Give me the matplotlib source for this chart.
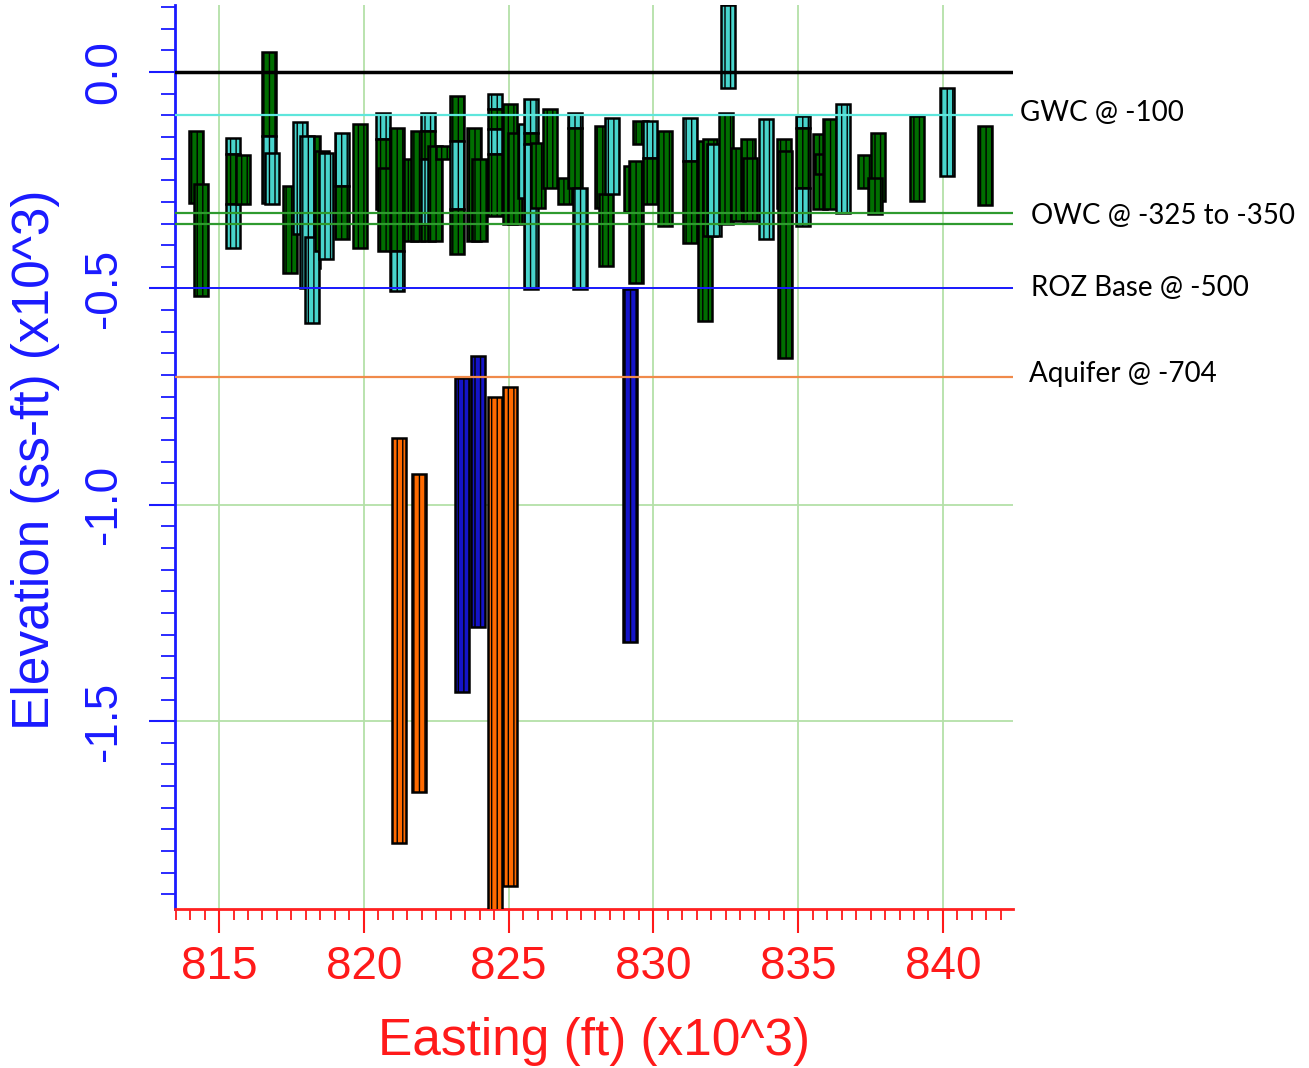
import matplotlib
matplotlib.use('Agg')
import matplotlib.pyplot as plt
from matplotlib.ticker import MultipleLocator
import numpy as np

# well log segments: easting (x10^3 ft), top and base elevation (ft), zone
seg_x = [814.21, 814.38, 815.48, 815.48, 815.48, 815.83, 816.73, 816.73, 816.83,
         817.45, 818.25, 817.80, 818.04, 818.21, 818.55, 818.69, 819.25, 819.25,
         819.87, 820.66, 820.66, 820.73, 821.15, 821.15, 821.63, 821.87, 822.22,
         822.22, 822.22, 822.22, 822.46, 822.73, 823.22, 823.22, 823.22, 823.80,
         824.00, 824.53, 824.53, 824.53, 824.53, 825.05, 825.22, 825.57, 825.77,
         825.77, 825.77, 826.02, 826.43, 826.95, 827.29, 827.29, 827.47, 828.23,
         828.36, 828.57, 829.23, 829.40, 829.55, 829.88, 829.88, 830.40, 831.26,
         831.26, 831.78, 831.95, 832.10, 832.51, 832.58, 832.92, 833.27, 833.34,
         833.89, 834.51, 834.54, 835.17, 835.17, 835.17, 835.75, 835.82, 836.10,
         836.55, 837.31, 837.76, 837.65, 839.10, 840.14, 841.45,
         821.22, 821.91, 823.39, 823.94, 824.53, 825.05, 829.19]
seg_top = [-136, -258, -152, -189, -305, -192, 46, -148, -187,
           -263, -148, -115, -148, -380, -182, -187, -141, -263,
           -120, -95, -155, -222, -129, -413, -201, -136, -95,
           -136, -201, -351, -171, -171, -55, -159, -316, -129,
           -201, -51, -85, -132, -189, -74, -141, -120, -62,
           -141, -166, -164, -85, -245, -95, -129, -268, -125,
           -282, -106, -217, -205, -113, -113, -198, -136, -106,
           -205, -159, -155, -166, -95, 155, -175, -155, -198,
           -108, -155, -182, -102, -129, -268, -143, -189, -108,
           -74, -192, -141, -245, -102, -37, -125,
           -845, -928, -706, -655, -750, -727, -501]
seg_bot = [-302, -517, -189, -305, -406, -305, -148, -302, -305,
           -464, -452, -374, -499, -579, -413, -432, -263, -385,
           -406, -155, -316, -413, -413, -505, -390, -390, -136,
           -201, -351, -390, -390, -201, -159, -316, -420, -390,
           -390, -85, -132, -189, -332, -351, -351, -291, -141,
           -166, -501, -314, -268, -305, -129, -268, -501, -314,
           -448, -282, -323, -487, -166, -198, -305, -355, -205,
           -395, -575, -379, -379, -351, -37, -344, -316, -344,
           -385, -314, -660, -129, -268, -355, -316, -235, -316,
           -325, -268, -298, -328, -298, -240, -307,
           -1782, -1664, -1433, -1283, -1990, -1881, -1316]
seg_kind = ['g', 'g', 'c', 'g', 'c', 'g', 'g', 'c', 'c',
            'g', 'g', 'c', 'c', 'c', 'g', 'c', 'c', 'g',
            'g', 'c', 'g', 'g', 'g', 'c', 'g', 'g', 'c',
            'g', 'c', 'g', 'g', 'g', 'g', 'c', 'g', 'g',
            'g', 'c', 'g', 'c', 'g', 'g', 'g', 'c', 'c',
            'g', 'c', 'g', 'g', 'g', 'c', 'g', 'c', 'g',
            'g', 'c', 'g', 'g', 'g', 'c', 'g', 'g', 'c',
            'g', 'g', 'g', 'c', 'g', 'c', 'g', 'g', 'g',
            'c', 'g', 'g', 'c', 'g', 'c', 'g', 'g', 'g',
            'c', 'g', 'g', 'g', 'g', 'c', 'g',
            'o', 'o', 'b', 'b', 'o', 'o', 'b']

kind_colors = {'g': '#006e00', 'c': '#48d4cc', 'b': '#1414c8', 'o': '#ff6a00'}

# fluid contacts (ft)
contact_elev = [0, -100, -325, -350, -500, -704]
contact_colors = ['black', '#5ee6dc', '#2e9a2e', '#2e9a2e', '#1a1aff', '#f08a4a']
contact_widths = [2.5, 1.6, 1.6, 1.6, 1.4, 1.6]
label_text = ['GWC @ -100', 'OWC @ -325 to -350', 'ROZ Base @ -500', 'Aquifer @ -704']
label_elev = [-95, -333, -500, -697]
label_xpos = [1.008, 1.022, 1.022, 1.019]

x_ticks = [815, 820, 825, 830, 835, 840]
y_ticks = [0.0, -0.5, -1.0, -1.5]

fig = plt.figure(figsize=(13.09, 10.68), dpi=100)
ax = fig.add_axes([0.1337, 0.1489, 0.6402, 0.8464])

x = np.array(seg_x)
top = np.array(seg_top) / 1000.0
bot = np.array(seg_bot) / 1000.0
ax.bar(x, top - bot, bottom=bot, width=0.5,
       color=[kind_colors[k] for k in seg_kind],
       edgecolor='black', linewidth=1.8, hatch='|||', zorder=3)

for e, c, w in zip(contact_elev, contact_colors, contact_widths):
    ax.axhline(e / 1000.0, color=c, lw=w, zorder=4)

for t, e, xp in zip(label_text, label_elev, label_xpos):
    ax.annotate(t, xy=(xp, e / 1000.0), xycoords=('axes fraction', 'data'),
                ha='left', va='center', fontsize=20, family='Lato',
                annotation_clip=False)

ax.set_xlim(813.48, 842.42)
ax.set_ylim(-1.934, 0.155)

ax.set_xticks(x_ticks)
ax.set_xticklabels([str(v) for v in x_ticks])
ax.xaxis.set_minor_locator(MultipleLocator(0.5))
ax.set_yticks(y_ticks)
ax.set_yticklabels(['%.1f' % v for v in y_ticks], rotation=90, va='center')
ax.yaxis.set_minor_locator(MultipleLocator(0.05))

ax.grid(True, which='major', color='#b4e0a8', lw=1.3, zorder=0)

for s in ['top', 'right']:
    ax.spines[s].set_visible(False)
ax.spines['left'].set_color('#1a1aff')
ax.spines['left'].set_linewidth(2)
ax.spines['bottom'].set_color('#ff2020')
ax.spines['bottom'].set_linewidth(2)

ax.tick_params(axis='x', which='major', colors='#ff1a1a', length=17, width=1.5,
               pad=9, labelsize=33)
ax.tick_params(axis='x', which='minor', colors='#ff1a1a', length=8, width=1.3)
ax.tick_params(axis='y', which='major', colors='#1a1aff', length=19, width=1.5,
               pad=16, labelsize=33)
ax.tick_params(axis='y', which='minor', colors='#1a1aff', length=10, width=1.3)
for lab in ax.get_xticklabels() + ax.get_yticklabels():
    lab.set_family('Liberation Sans')

ax.set_xlabel('Easting (ft) (x10^3)', color='#ff1a1a', fontsize=37,
              family='Liberation Sans')
ax.set_ylabel('Elevation (ss-ft) (x10^3)', color='#1a1aff', fontsize=37,
              family='Liberation Sans')
ax.xaxis.set_label_coords(0.5, -0.12)
ax.yaxis.set_label_coords(-0.137, 0.497)

fig.savefig('out.png', dpi=100)
